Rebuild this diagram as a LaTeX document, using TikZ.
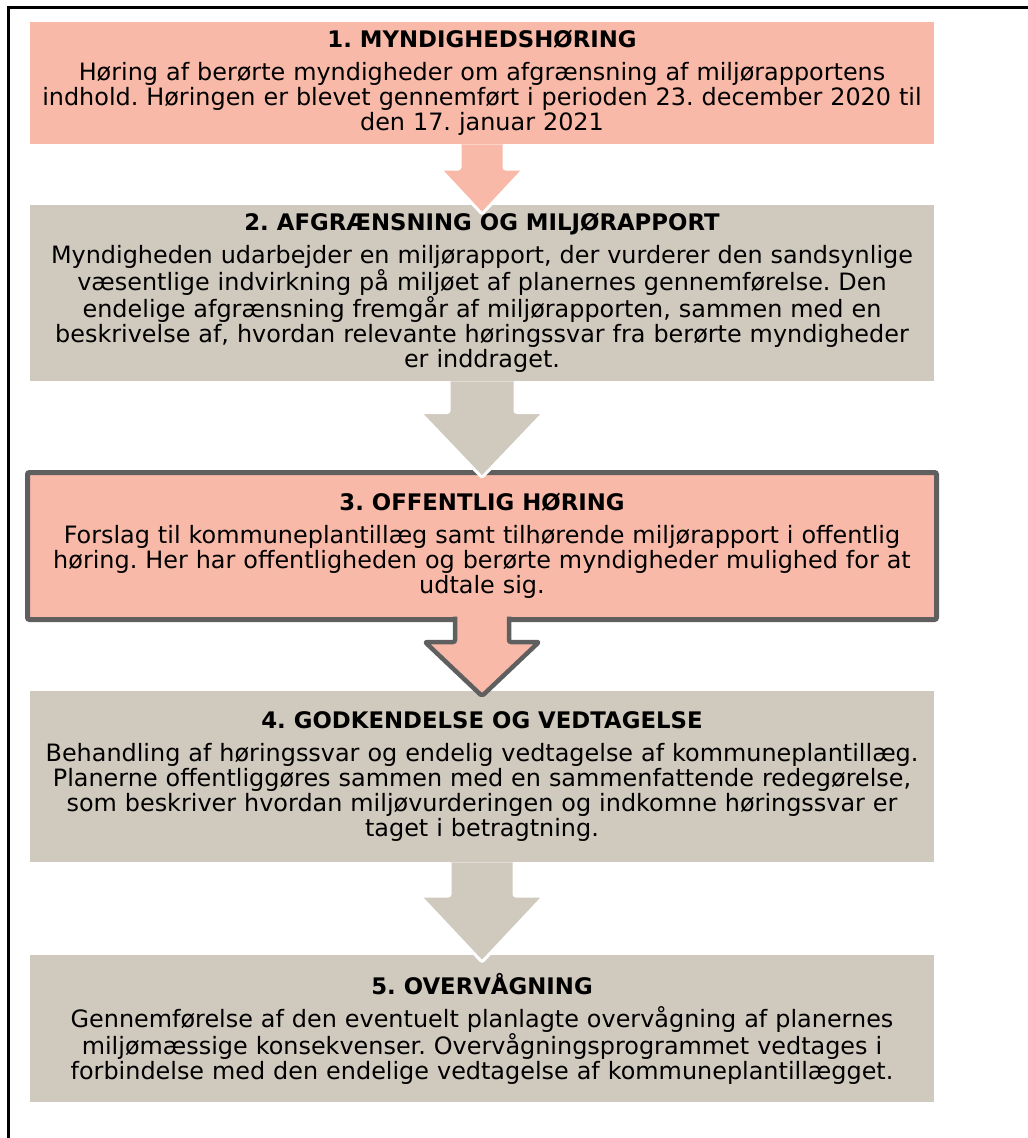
\documentclass[tikz,border=0pt]{standalone}
\usepackage{fontspec}
\setmainfont{DejaVu Sans}
\usetikzlibrary{calc}
\frenchspacing

\definecolor{salmonfill}{RGB}{248,185,168}
\definecolor{beigefill}{RGB}{208,201,190}
\definecolor{rimgrey}{RGB}{95,95,95}

\tikzset{
  stepbox/.style={rectangle, inner sep=0pt, minimum width=904pt, text width=900pt,
    align=center, font=\fontsize{23.9}{25}\selectfont, anchor=north},
  pinkstep/.style={stepbox, fill=salmonfill},
  greystep/.style={stepbox, fill=beigefill},
  whitearrow/.style={line width=3pt, draw=white, rounded corners=2pt},
  rimarrow/.style={line width=4.5pt, draw=rimgrey, fill=salmonfill, rounded corners=2pt, line join=round}
}

% arrow from one box to the next: style, from, to, shaft half, head half, head height, overlap
\newcommand{\flowarrow}[7]{%
  \path[#1] ($(#2)+(-#4,0)$) -- ($(#3)+(-#4,{#7-#6})$) -- ($(#3)+(-#5,{#7-#6})$)
    -- ($(#3)+(0,#7)$) -- ($(#3)+(#5,{#7-#6})$) -- ($(#3)+(#4,{#7-#6})$) -- ($(#2)+(#4,0)$);
}

\newcommand{\heading}[1]{{\fontsize{22.8}{25}\selectfont\textbf{#1}}\\[8pt]}

\begin{document}
\begin{tikzpicture}[x=1pt,y=-1pt]
\useasboundingbox (0,0) rectangle (1028,1138);
% frame
\draw[line width=3pt] (1040,7) -- (8,7) -- (8,1150);

% boxes
\node[pinkstep, minimum height=122pt] (mynd) at (482,22) {\heading{1. MYNDIGHEDSHØRING}
Høring af berørte myndigheder om afgrænsning af miljørapportens\\
indhold. Høringen er blevet gennemført i perioden 23. december 2020 til\\
den 17. januar 2021};

\node[greystep, minimum height=176pt] (afgr) at (482,205) {\heading{2. AFGRÆNSNING OG MILJØRAPPORT}
Myndigheden udarbejder en miljørapport, der vurderer den sandsynlige\\
væsentlige indvirkning på miljøet af planernes gennemførelse. Den\\
endelige afgrænsning fremgår af miljørapporten, sammen med en\\
beskrivelse af, hvordan relevante høringssvar fra berørte myndigheder\\
er inddraget.};

\node[pinkstep, minimum width=909pt, minimum height=147pt, draw=rimgrey, line width=5pt,
  rounded corners=2pt, outer sep=0pt] (offh) at (482,472.5) {\heading{3. OFFENTLIG HØRING}
Forslag til kommuneplantillæg samt tilhørende miljørapport i offentlig\\
høring. Her har offentligheden og berørte myndigheder mulighed for at\\
udtale sig.};

\node[greystep, minimum height=171pt] (godk) at (482,691) {\heading{4. GODKENDELSE OG VEDTAGELSE}
Behandling af høringssvar og endelig vedtagelse af kommuneplantillæg.\\
Planerne offentliggøres sammen med en sammenfattende redegørelse,\\
som beskriver hvordan miljøvurderingen og indkomne høringssvar er\\
taget i betragtning.};

\node[greystep, minimum height=147pt] (overv) at (482,955) {\heading{5. OVERVÅGNING}
Gennemførelse af den eventuelt planlagte overvågning af planernes\\
miljømæssige konsekvenser. Overvågningsprogrammet vedtages i\\
forbindelse med den endelige vedtagelse af kommuneplantillægget.};

% arrows
\coordinate (offh-base) at ([yshift=3pt]offh.south);
\flowarrow{whitearrow, fill=salmonfill}{mynd.south}{afgr.north}{22}{42}{45}{9}
\flowarrow{whitearrow, fill=beigefill}{afgr.south}{offh.north}{33}{62}{65}{5}
\flowarrow{rimarrow}{offh-base}{godk.north}{27}{57}{54}{5}
\flowarrow{whitearrow, fill=beigefill}{godk.south}{overv.north}{32}{62}{66}{7}
\end{tikzpicture}
\end{document}
